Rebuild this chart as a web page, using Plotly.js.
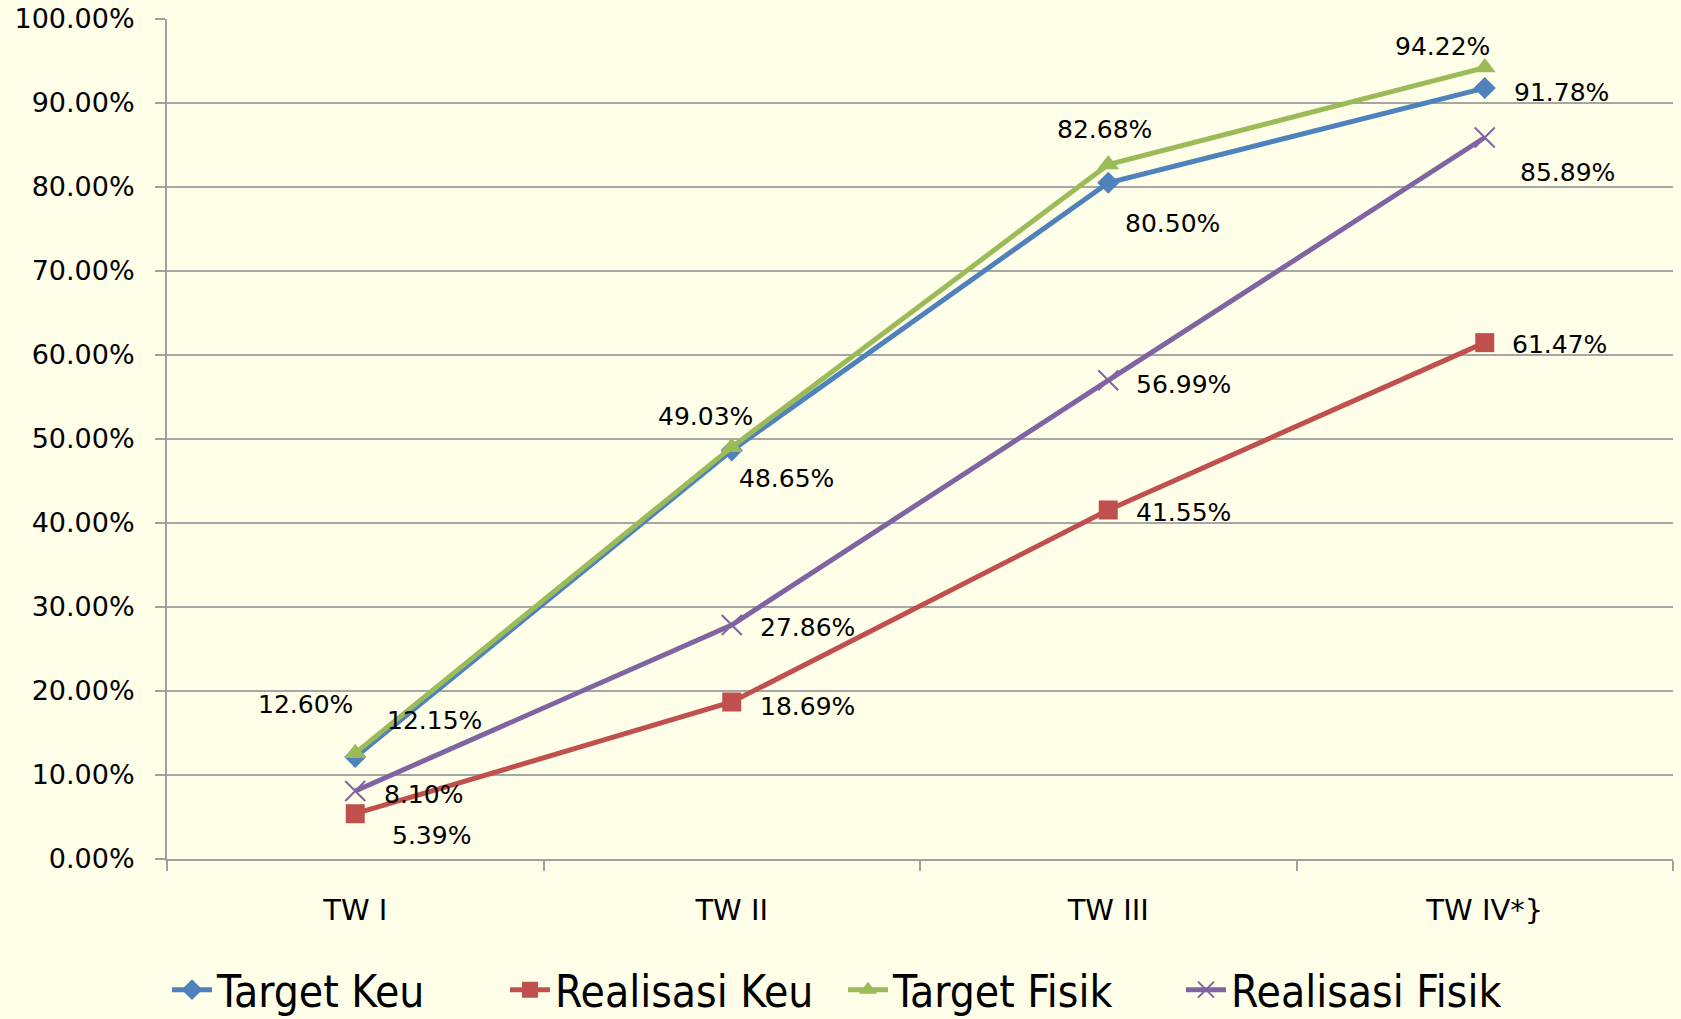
<!DOCTYPE html>
<html>
<head>
<meta charset="utf-8">
<script src="https://cdn.plot.ly/plotly-3.0.1.min.js"></script>
<style>
html,body{margin:0;padding:0;background:#FEFEE9;}
#chart{width:1681px;height:1019px;}
</style>
</head>
<body>
<div id="chart"></div>
<script>
var categories = ["TW I", "TW II", "TW III", "TW IV*}"];
var seriesNames = ["Target Keu", "Realisasi Keu", "Target Fisik", "Realisasi Fisik"];
var targetKeu = [12.15, 48.65, 80.50, 91.78];
var realisasiKeu = [5.39, 18.69, 41.55, 61.47];
var targetFisik = [12.60, 49.03, 82.68, 94.22];
var realisasiFisik = [8.10, 27.86, 56.99, 85.89];
var yTicks = [0, 10, 20, 30, 40, 50, 60, 70, 80, 90, 100];

var seriesValues = [targetKeu, realisasiKeu, targetFisik, realisasiFisik];
var colors = ["#4F81BD", "#C0504D", "#9BBB59", "#8064A2"];
var symbols = ["diamond", "square", "triangle-up", "x-thin-open"];
var markerSizes = [17, 19, 19, 20];
// label offsets in pixels (dx right, dy down) per series per point
var labelOffsets = [
  [[79, -36], [55, 28], [64, 41], [77, 4]],
  [[76, 22], [76, 4], [75, 3], [75, 2]],
  [[-50, -49], [-26, -31], [-4, -35], [-42, -21]],
  [[68, 4], [76, 3], [75, 4], [83, 35]]
];

var traces = [];
var annotations = [];
seriesValues.forEach(function (vals, i) {
  traces.push({
    type: "scatter",
    mode: "lines+markers",
    name: seriesNames[i],
    x: categories,
    y: vals,
    line: {color: colors[i], width: 5},
    marker: {
      symbol: symbols[i],
      size: markerSizes[i],
      color: colors[i],
      line: {color: colors[i], width: i === 3 ? 2 : 0}
    },
    hoverinfo: "x+y+name"
  });
  vals.forEach(function (v, j) {
    annotations.push({
      x: categories[j],
      y: v,
      xref: "x",
      yref: "y",
      text: v.toFixed(2) + "%",
      showarrow: false,
      xshift: labelOffsets[i][j][0],
      yshift: -labelOffsets[i][j][1],
      font: {family: "DejaVu Sans, Verdana, sans-serif", size: 25, color: "#000000"}
    });
  });
});

var layout = {
  width: 1681,
  height: 1019,
  paper_bgcolor: "#FEFEE9",
  plot_bgcolor: "#FEFEE9",
  margin: {l: 167, r: 8, t: 19, b: 160, autoexpand: false},
  font: {family: "DejaVu Sans, Verdana, sans-serif", size: 27, color: "#000000"},
  showlegend: true,
  legend: {
    orientation: "h",
    x: 0.0,
    xanchor: "left",
    y: -0.156,
    yanchor: "middle",
    font: {family: "DejaVu Sans Condensed, Liberation Sans Narrow, Lato, sans-serif", size: 44, color: "#000000"},
    itemwidth: 40,
    entrywidth: 283,
    entrywidthmode: "pixels",
    bgcolor: "rgba(0,0,0,0)"
  },
  xaxis: {
    type: "category",
    range: [-0.5, 3.5],
    showgrid: false,
    showline: true,
    linecolor: "#A0A0A0",
    linewidth: 2,
    ticks: "outside",
    tickson: "boundaries",
    ticklen: 10,
    tickwidth: 2,
    tickcolor: "#A0A0A0",
    ticklabelstandoff: 24,
    tickfont: {size: 29},
    zeroline: false,
    fixedrange: true
  },
  yaxis: {
    range: [0, 100],
    tickvals: yTicks,
    ticktext: yTicks.map(function (t) { return t.toFixed(2) + "%"; }),
    showgrid: true,
    gridcolor: "#A6A6A6",
    gridwidth: 2,
    showline: true,
    linecolor: "#A0A0A0",
    linewidth: 2,
    ticks: "outside",
    ticklen: 10,
    tickwidth: 2,
    tickcolor: "#A0A0A0",
    ticklabelstandoff: 15,
    tickfont: {size: 27},
    zeroline: false,
    fixedrange: true
  },
  annotations: annotations
};

Plotly.newPlot("chart", traces, layout, {displayModeBar: false, staticPlot: true});
</script>
</body>
</html>
